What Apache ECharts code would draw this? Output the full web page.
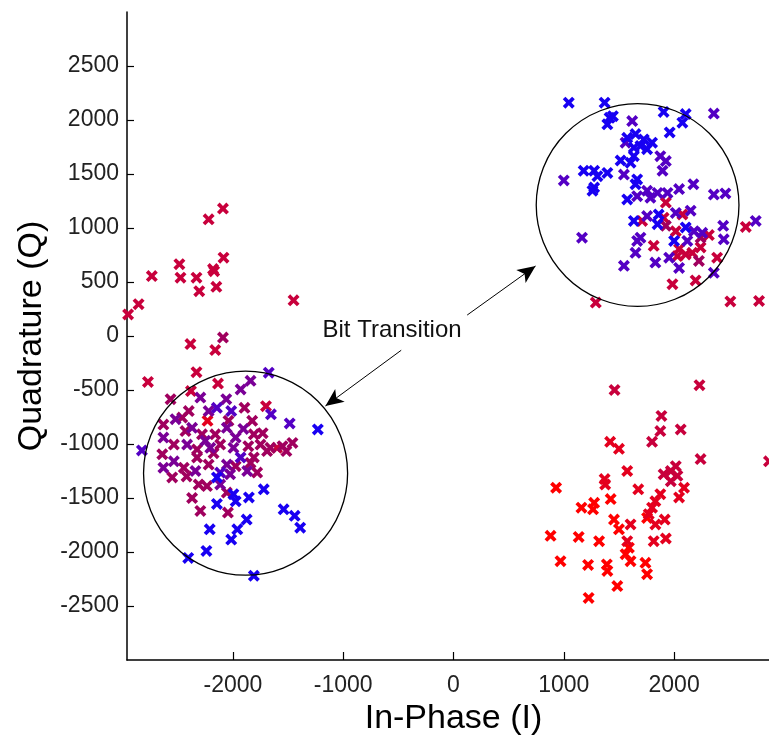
<!DOCTYPE html>
<html>
<head>
<meta charset="utf-8">
<script src="https://cdn.jsdelivr.net/npm/echarts@6/dist/echarts.min.js"></script>
<style>
html,body{margin:0;padding:0;background:#fff}
#main{width:769px;height:742px}
</style>
</head>
<body>
<div id="main"></div>
<script>
// tick positions
var xTicks = [-2000, -1000, 0, 1000, 2000]
var yTicks = [-2500, -2000, -1500, -1000, -500, 0, 500, 1000, 1500, 2000, 2500]

// points, grouped by marker colour (red -> blue)
var redPts = [[1425,-1510],[1275,-1545],[1265,-1605],[1160,-1590],[930,-1405],[1755,-1685],[1455,-1700],[1500,-1790],[880,-1850],[1135,-1860],[1320,-1900],[1590,-1960],[1560,-2020],[1605,-2085],[970,-2085],[1220,-2120],[1390,-2115],[1395,-2175],[1740,-2100],[1755,-2205],[1485,-2315],[1225,-2425]]
var scarletPts = [[1420,-980],[1500,-1045],[1575,-1250],[1370,-1325],[1375,-1375],[1675,-1420],[2090,-1405],[1875,-1465],[2045,-1495],[1830,-1530],[1800,-1590],[1770,-1650],[1830,-1745],[1915,-1700],[1605,-1745],[1815,-1900],[1925,-1875],[1575,-1900],[-2230,-785]]
var crimsonPts = [[-2950,200],[-2855,295],[-2735,555],[-2485,665],[-2475,540],[-2330,540],[-2305,415],[-2220,1080],[-2090,1180],[-2180,620],[-2170,600],[-2150,455],[-2085,725],[-1450,330],[-2385,-75],[-2160,-130],[-2330,-335],[-2770,-425],[-2135,-440],[-2380,-510],
	[-1700,-650],[-1600,-1035],
	[1925,1235],[1905,1095],[2075,1125],[1710,1065],[2015,970],[2315,935],[2650,1010],[1815,835],[2045,805],[2105,755],[2165,770],[2240,820],[2030,740],[2390,725],[1985,480],[2195,515],[1290,310],[2510,320],[2770,325],
	[1460,-500],[2230,-455],[1885,-740],[1875,-880],[2060,-865],[1800,-980],[2240,-1140],[2015,-1205],[1970,-1250],[1905,-1280],[2030,-1295],[1970,-1345],[2860,-1160]]
var winePts = [[-2090,-15],[-2565,-585],[-2400,-695],[-1895,-665],[-2630,-820],[-2460,-755],[-2280,-910],[-2160,-910],[-1825,-785],[-1810,-910],[-1750,-1005],[-1460,-990],[-1660,-1035],[-2535,-1005],[-2325,-1050],[-2115,-1005],[-2640,-1095],[-2325,-1125],[-2220,-1190],[-1810,-1125],[-1690,-1065],[-2445,-1220],[-1780,-1265],[-2550,-1310],[-2420,-1300],[-2310,-1375],[-2235,-1390],[-2055,-1450],[-2370,-1500],[-2295,-1620],[-2045,-1635],
	[-2430,-880],[-2175,-1085],[-2040,-785],[-1860,-1020],[-1730,-900],[-1550,-1020],[-1515,-1065],[-1975,-1205],[-1840,-1175],
	[1925,1020],[2240,910],[2225,695]]
var purplePts = [[-1840,-415],[-1930,-495],[-2060,-585],[-2295,-570],[-2220,-695],[-2370,-850],[-2055,-850],[-1975,-940],[-2630,-940],[-2415,-1005],[-2205,-1035],[-1995,-1035],[-2535,-1160],[-2055,-1190],[-2630,-1220],[-2025,-1280],[-1870,-1250],[-2115,-1375],
	[-2520,-770],[-2250,-970],[-1905,-860],[-2340,-1250]]
var violetPts = [[-1675,-340],[-2145,-665],[-2015,-695],[-1655,-725],[-1485,-810],[-2825,-1060],[-1930,-1125],[-2115,-1265],
	[1620,1990],[2360,2060],[1560,1790],[1875,1665],[1925,1620],[1895,1530],[1545,1495],[1000,1440],[1755,1345],[1850,1325],[1940,1325],[2045,1360],[2175,1405],[1665,1295],[1785,1280],[2360,1310],[2465,1320],[1755,1110],[2015,1140],[2150,1160],[2180,970],[2255,955],[2445,1020],[2740,1065],[1165,910],[1695,910],[1665,880],[2120,880],[2450,895],[1650,770],[1955,725],[1830,680],[2045,630],[1545,650],[2360,585]]
var bluePts = [[-1230,-865],[-2145,-1310],[-1995,-1465],[-2145,-1555],[-1975,-1530],[-1855,-1495],[-1720,-1420],[-1540,-1605],[-1440,-1665],[-1390,-1775],[-2210,-1790],[-1875,-1700],[-1960,-1790],[-2015,-1885],[-2240,-1990],[-2405,-2055],[-1810,-2220],
	[1045,2160],[1370,2160],[1415,2020],[1395,1960],[1445,2035],[1905,2075],[2105,2055],[2075,1975],[1960,1885],[1575,1835],[1650,1870],[1725,1820],[1800,1790],[1695,1760],[1635,1745],[1755,1730],[1635,1665],[1515,1625],[1605,1605],[1180,1530],[1275,1530],[1305,1480],[1395,1510],[1665,1450],[1650,1405],[1275,1375],[1260,1345],[1575,1265],[1860,1125],[1635,1065],[1850,1035],[2105,1005],[2000,880]]

// annotations (data units)
var circleCenters = [[-1885, -1270], [1669, 1213]]
var circleRadii = [925, 919]
var arrowLines = [[[124, 194], [744, 648]], [[-474, -132], [-1161, -648]]]
var noteText = 'Bit Transition'
var notePos = [-1188, 56]

var groups = [
	{ data: redPts, color: '#ff0000' },
	{ data: scarletPts, color: '#e4001e' },
	{ data: crimsonPts, color: '#c8003c' },
	{ data: winePts, color: '#a0005e' },
	{ data: purplePts, color: '#7a0096' },
	{ data: violetPts, color: '#5400c4' },
	{ data: bluePts, color: '#1800f2' }
]

var crossPath = 'path://M0,2.2L2.2,0L5,2.8L7.8,0L10,2.2L7.2,5L10,7.8L7.8,10L5,7.2L2.2,10L0,7.8L2.8,5Z'
var font = '"Liberation Sans", Arial, Helvetica, sans-serif'

var series = groups.map(function (g) {
	return {
		type: 'scatter',
		data: g.data,
		symbol: crossPath,
		symbolSize: 12,
		itemStyle: { color: g.color, opacity: 1 },
		silent: true
	}
})

// arrows go on an empty series as markLines
series.push({
	type: 'scatter',
	data: [],
	markLine: {
		silent: true,
		symbol: ['none', 'arrow'],
		symbolSize: [12, 18],
		label: { show: false },
		lineStyle: { color: '#000', width: 1, type: 'solid' },
		data: arrowLines.map(function (a) {
			return [{ coord: a[0] }, { coord: a[1] }]
		})
	}
})

var plain = function (v) { return String(v) }

var chart = echarts.init(document.getElementById('main'), null, { renderer: 'canvas' })
chart.setOption({
	animation: false,
	backgroundColor: '#fff',
	grid: { left: 127, right: -11, top: 12, bottom: 82, outerBoundsMode: 'none' },
	xAxis: {
		type: 'value',
		min: -2960,
		max: 2960,
		name: 'In-Phase (I)',
		nameLocation: 'middle',
		nameGap: 38,
		nameTextStyle: { fontFamily: font, fontSize: 34, color: '#000' },
		axisLine: { onZero: false, lineStyle: { color: '#000', width: 1.5 } },
		axisTick: { inside: true, length: 8, customValues: xTicks, lineStyle: { color: '#000', width: 1.2 } },
		axisLabel: { customValues: xTicks, formatter: plain, margin: 14, fontFamily: font, fontSize: 23, color: '#222' },
		splitLine: { show: false }
	},
	yAxis: {
		type: 'value',
		min: -3000,
		max: 3000,
		name: 'Quadrature (Q)',
		nameLocation: 'middle',
		nameGap: 78,
		nameTextStyle: { fontFamily: font, fontSize: 34, color: '#000' },
		axisLine: { onZero: false, lineStyle: { color: '#000', width: 1.5 } },
		axisTick: { inside: true, length: 7, customValues: yTicks, lineStyle: { color: '#000', width: 1.2 } },
		axisLabel: { customValues: yTicks, formatter: plain, margin: 8, fontFamily: font, fontSize: 23, color: '#222' },
		splitLine: { show: false }
	},
	series: series
})

// circles and the note, placed through the axes
var graphics = circleCenters.map(function (c, i) {
	var p = chart.convertToPixel({ gridIndex: 0 }, c)
	var q = chart.convertToPixel({ gridIndex: 0 }, [c[0] + circleRadii[i], c[1]])
	return {
		type: 'circle',
		shape: { cx: p[0], cy: p[1], r: q[0] - p[0] },
		style: { fill: 'none', stroke: '#000', lineWidth: 1.3 },
		z: 10,
		silent: true
	}
})
var np = chart.convertToPixel({ gridIndex: 0 }, notePos)
graphics.push({
	type: 'text',
	x: np[0],
	y: np[1],
	style: { text: noteText, font: '24px ' + font, fill: '#111', verticalAlign: 'middle', align: 'left' },
	z: 10,
	silent: true
})
chart.setOption({ graphic: graphics })
</script>
</body>
</html>
